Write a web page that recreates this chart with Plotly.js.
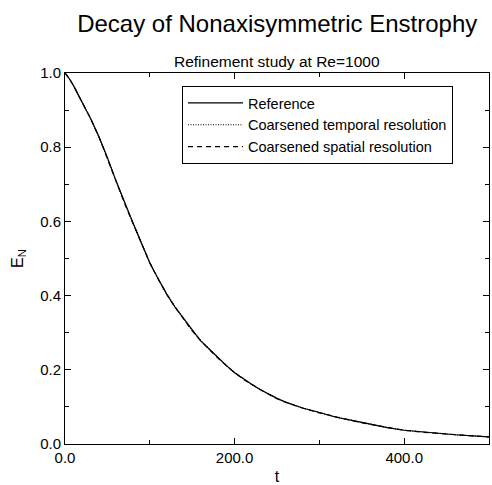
<!DOCTYPE html>
<html>
<head>
<meta charset="utf-8">
<script src="https://cdn.plot.ly/plotly-3.0.1.min.js"></script>
<style>
html,body{margin:0;padding:0;background:#fff;}
#chart{width:492px;height:485px;}
</style>
</head>
<body>
<div id="chart"></div>
<script>
var seriesNames = ["Reference", "Coarsened temporal resolution", "Coarsened spatial resolution"];
var timeValues = [0, 5, 10, 20, 30, 40, 50, 60, 70, 80, 90, 100, 110, 120, 130, 140, 150, 160, 170, 180, 190, 200, 210, 220, 230, 240, 250, 260, 280, 300, 320, 340, 360, 380, 400, 420, 440, 460, 480, 500];
var referenceValues = [1.000, 0.985, 0.966, 0.924, 0.878, 0.828, 0.772, 0.710, 0.651, 0.597, 0.542, 0.488, 0.445, 0.404, 0.368, 0.337, 0.306, 0.278, 0.256, 0.233, 0.212, 0.192, 0.176, 0.161, 0.147, 0.134, 0.123, 0.113, 0.097, 0.085, 0.072, 0.063, 0.053, 0.044, 0.037, 0.032, 0.029, 0.025, 0.022, 0.019];
var temporalValues = [1.000, 0.985, 0.966, 0.924, 0.878, 0.828, 0.772, 0.711, 0.651, 0.597, 0.542, 0.489, 0.445, 0.404, 0.369, 0.337, 0.306, 0.279, 0.256, 0.233, 0.212, 0.193, 0.176, 0.161, 0.147, 0.134, 0.123, 0.113, 0.097, 0.085, 0.072, 0.063, 0.053, 0.044, 0.037, 0.032, 0.029, 0.025, 0.022, 0.019];
var spatialValues = [1.000, 0.985, 0.966, 0.924, 0.878, 0.828, 0.771, 0.710, 0.650, 0.596, 0.541, 0.488, 0.444, 0.403, 0.368, 0.336, 0.305, 0.278, 0.255, 0.232, 0.212, 0.192, 0.175, 0.160, 0.147, 0.134, 0.122, 0.113, 0.097, 0.084, 0.072, 0.062, 0.053, 0.044, 0.037, 0.032, 0.028, 0.025, 0.022, 0.019];
var xTickValues = [0, 200, 400];
var xTickLabels = ["0.0", "200.0", "400.0"];
var yTickValues = [0, 0.2, 0.4, 0.6, 0.8, 1.0];
var yTickLabels = ["0.0", "0.2", "0.4", "0.6", "0.8", "1.0"];

var font = "Liberation Sans, Arial, Helvetica, sans-serif";
var traces = [
  {x: timeValues, y: referenceValues, name: seriesNames[0], mode: "lines", line: {color: "#000", width: 1.2, dash: "solid"}},
  {x: timeValues, y: temporalValues, name: seriesNames[1], mode: "lines", line: {color: "#000", width: 1.2, dash: "1px,1.5px"}},
  {x: timeValues, y: spatialValues, name: seriesNames[2], mode: "lines", line: {color: "#000", width: 1.2, dash: "5px,4px"}}
];
var axisCommon = {
  showgrid: false, zeroline: false, showline: true, linecolor: "#000", linewidth: 1,
  mirror: "ticks", ticks: "inside", ticklen: 6, tickwidth: 1, tickcolor: "#000",
  tickfont: {family: font, size: 15, color: "#000"}
};
var layout = {
  width: 492, height: 485,
  paper_bgcolor: "#fff", plot_bgcolor: "#fff",
  margin: {l: 65, r: 3, t: 73, b: 41},
  font: {family: font, color: "#000"},
  showlegend: true,
  title: {text: "Decay of Nonaxisymmetric Enstrophy", font: {family: font, size: 24, color: "#000"}, x: 0.5635, xanchor: "center", y: 0.952, yanchor: "middle"},
  annotations: [{text: "Refinement study at Re=1000", xref: "paper", yref: "paper", x: 0.5, y: 1.03, xanchor: "center", yanchor: "middle", showarrow: false, font: {family: font, size: 15.5, color: "#000"}}],
  xaxis: Object.assign({}, axisCommon, {
    range: [0, 500], tickvals: xTickValues, ticktext: xTickLabels,
    minor: {dtick: 100, tick0: 0, ticks: "inside", ticklen: 4, tickcolor: "#000", showgrid: false},
    title: {text: "t", font: {family: font, size: 16, color: "#000"}, standoff: 6}
  }),
  yaxis: Object.assign({}, axisCommon, {
    range: [0, 1.0], tickvals: yTickValues, ticktext: yTickLabels,
    minor: {dtick: 0.1, tick0: 0, ticks: "inside", ticklen: 4, tickcolor: "#000", showgrid: false},
    title: {text: "E<sub>N</sub>", font: {family: font, size: 16, color: "#000"}, standoff: 12}
  }),
  legend: {
    x: 0.276, y: 0.965, xanchor: "left", yanchor: "top",
    bgcolor: "#fff", bordercolor: "#000", borderwidth: 1,
    font: {family: font, size: 14.5, color: "#000"},
    tracegroupgap: 0, itemwidth: 55
  }
};
Plotly.newPlot("chart", traces, layout, {displayModeBar: false, staticPlot: true});
</script>
</body>
</html>
